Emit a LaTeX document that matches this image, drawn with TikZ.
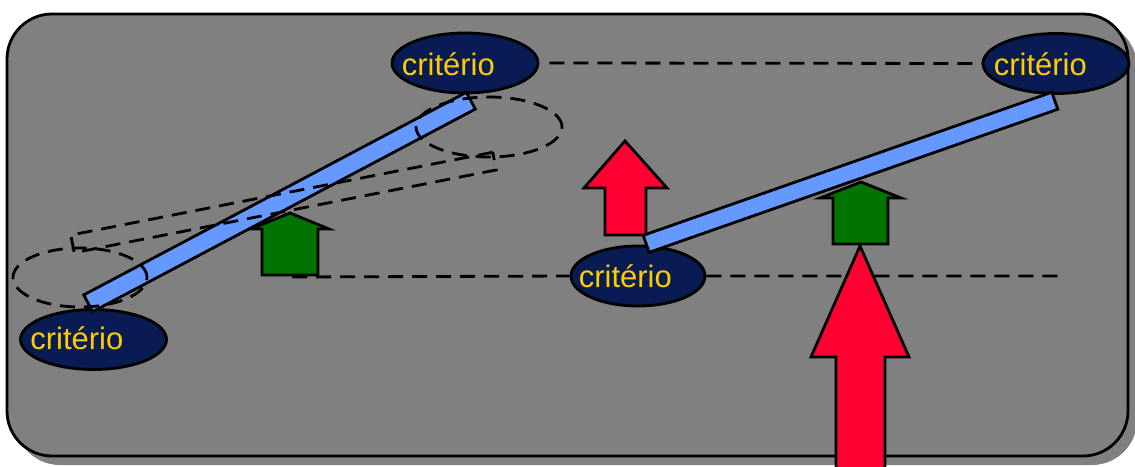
\documentclass[tikz,border=0pt]{standalone}
\usepackage{fontspec}
\setmainfont{Liberation Sans}
\usetikzlibrary{shapes.geometric}
\definecolor{bggray}{RGB}{128,128,128}
\definecolor{navy}{RGB}{8,27,82}
\definecolor{crityellow}{RGB}{255,204,0}
\definecolor{barblue}{RGB}{102,153,255}
\definecolor{arrred}{RGB}{255,0,51}
\definecolor{arrgreen}{RGB}{0,115,0}
\pgfdeclarelayer{back}
\pgfdeclarelayer{mid}
\pgfsetlayers{back,mid,main}
\tikzset{
  panel/.style={fill=bggray, draw=black, line width=2.8pt, rounded corners=45pt},
  crit/.style={ellipse, fill=navy, draw=black, line width=2.8pt, inner sep=0pt},
  crittext/.style={anchor=base west, inner sep=0pt, text=crityellow, font=\fontsize{31}{36}\selectfont},
  dashline/.style={draw=black, line width=2.8pt, dash pattern=on 15pt off 9pt},
  ghostell/.style={ellipse, draw=black, line width=2.8pt, dash pattern=on 15pt off 9pt, inner sep=0pt},
  ghostbar/.style={rectangle, draw=black, line width=2.8pt, dash pattern=on 15pt off 9pt, inner sep=0pt},
  barbox/.style={rectangle, fill=barblue, draw=black, line width=2.8pt, inner sep=0pt},
  blockarrow/.style={draw=black, line width=2.8pt, line join=miter}
}
\begin{document}
\begin{tikzpicture}[x=1pt,y=-1pt]
\useasboundingbox (0,0) rectangle (1135,466);

% panel with shadow
\begin{pgfonlayer}{back}
\fill[white] (0,0) rectangle (1135,466);
\fill[bggray, rounded corners=45pt] (15,22) rectangle (1137,465);
\draw[panel] (7,14) rectangle (1128,456);
\end{pgfonlayer}

% criterion ellipses
\node[crit, minimum width=146pt, minimum height=60pt] (c1) at (465,63) {};
\node[crit, minimum width=146pt, minimum height=60pt] (c2) at (1056,63.5) {};
\node[crit, minimum width=146pt, minimum height=60pt] (c4) at (93.5,339.5) {};
\node[crit, minimum width=134pt, minimum height=60pt] (c3) at (638,276) {};
\node[crittext] (t1) at ([xshift=11pt,yshift=-12pt]c1.west) {critério};
\node[crittext] (t2) at ([xshift=12pt,yshift=-12pt]c2.west) {critério};
\node[crittext] (t4) at ([xshift=11pt,yshift=-10pt]c4.west) {critério};
\node[crittext] (t3) at ([xshift=9pt,yshift=-11pt]c3.west) {critério};

% dashed guide lines
\coordinate (b0) at (292,277);
\coordinate (b1) at (1058,276);
\begin{pgfonlayer}{mid}
\draw[dashline] ([xshift=10pt]c1.east) -- (c2.west);
\draw[dashline] (b0) -- (c3.west) (c3.east) -- (b1);
\end{pgfonlayer}

% block arrows
\draw[blockarrow, fill=arrgreen] (262,275) -- (262,229) -- (251,229) -- (290,213) -- (329,229) -- (318,229) -- (318,275) -- cycle;
\draw[blockarrow, fill=arrred] (605,235) -- (605,188) -- (584,188) -- (625,141) -- (667,188) -- (646,188) -- (646,235) -- cycle;
\draw[blockarrow, fill=arrgreen] (833,244) -- (833,198) -- (820,198) -- (861,182) -- (901,198) -- (888,198) -- (888,244) -- cycle;
\draw[blockarrow, fill=arrred] (836,470) -- (836,357) -- (811,357) -- (860,246) -- (909,357) -- (885,357) -- (885,470) -- cycle;

% bars
\node[barbox, minimum width=433pt, minimum height=19pt, rotate=27.9] (bar1) at (279.5,202) {};
\node[barbox, minimum width=433pt, minimum height=18pt, rotate=19.3] (bar2) at (850.5,172.3) {};

% ghost positions
\node[ghostell, minimum width=146pt, minimum height=60pt] (g1) at (489,127) {};
\node[ghostell, minimum width=134pt, minimum height=59pt] (g2) at (80,277.5) {};
\node[ghostbar, minimum width=430pt, minimum height=18pt, rotate=11.1] (g3) at (283.5,202.5) {};
\end{tikzpicture}
\end{document}
